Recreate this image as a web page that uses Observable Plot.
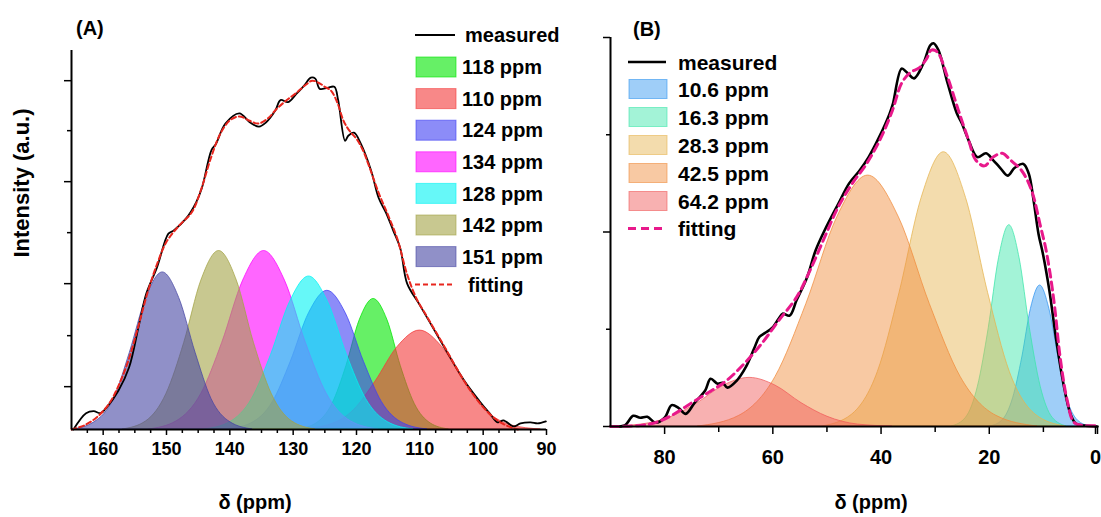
<!DOCTYPE html>
<html><head><meta charset="utf-8">
<script src="https://cdn.jsdelivr.net/npm/d3@7"></script>
<script src="https://cdn.jsdelivr.net/npm/@observablehq/plot@0.6"></script>
<style>
body{margin:0;background:#fff;}
#wrap{position:relative;width:1101px;height:517px;overflow:hidden;background:#fff;}
.pnl{position:absolute;top:0;}
#over{position:absolute;left:0;top:0;pointer-events:none;}
</style></head><body><div id="wrap"></div>
<script>
// ---------- Panel A data (ppm, intensity a.u.) ----------
const xDomainA = [165, 90];
const xTicksA = [160, 150, 140, 130, 120, 110, 100, 90];
const xMinorA = [162.5,157.5,155,152.5,147.5,145,142.5,137.5,135,132.5,127.5,125,122.5,117.5,115,112.5,107.5,105,102.5,97.5,95,92.5];
const yTicksA = [0.42, 1.43, 2.43, 3.42];
const yMinorA = [0.92, 1.93, 2.93];
const measuredA = [[164.7,0],[162.7,0.16],[161.5,0.18],[160.4,0.16],[159.4,0.22],[157.6,0.38],[155.9,0.61],[154.3,1.04],[153.2,1.33],[151.5,1.59],[149.7,1.92],[148.9,1.95],[146.9,2.07],[145.3,2.23],[144.4,2.37],[142.9,2.74],[142.2,2.80],[140.7,3.00],[138.5,3.10],[136.8,3.01],[135.4,2.97],[134.3,3.01],[132.8,3.13],[132.0,3.23],[130.8,3.21],[129.5,3.29],[128.3,3.37],[127.2,3.45],[126.5,3.44],[125.8,3.34],[124.6,3.35],[123.5,3.36],[122.9,3.23],[121.8,2.83],[121.3,2.88],[120.4,2.91],[119.3,2.80],[117.7,2.54],[116.5,2.27],[115.3,2.12],[114.2,1.95],[113.1,1.78],[112.0,1.43],[110.2,1.24],[108.6,1.07],[105.8,0.77],[103.0,0.48],[100.6,0.28],[99.0,0.16],[97.7,0.07],[96.8,0.09],[95.2,0.03],[94.1,0.06],[92.5,0.07],[91.4,0.06],[90.1,0.08]];
const fittingA = [[165,0],[163,0.04],[161,0.12],[159,0.26],[157.5,0.44],[156,0.68],[154.5,1.0],[153,1.34],[151.5,1.62],[150,1.84],[148,2.0],[146,2.13],[144.5,2.36],[143,2.66],[141.5,2.9],[140,3.03],[138.5,3.07],[137,3.03],[135.5,3.0],[134,3.05],[132.5,3.15],[131,3.23],[129.5,3.3],[128,3.38],[127,3.42],[126,3.4],[125,3.36],[124,3.32],[123,3.2],[122,3.02],[121,2.92],[120,2.85],[119,2.74],[118,2.58],[116.5,2.32],[115,2.1],[113.5,1.86],[112,1.52],[110.5,1.28],[109,1.12],[107.5,0.96],[106,0.8],[104,0.58],[102,0.38],[100,0.22],[98,0.1],[96,0.03],[94.5,0]];
const peakA118 = [[129.2,0],[126.3,0.06],[123.8,0.25],[121.6,0.62],[119.5,1.07],[117.3,1.28],[115.1,1.07],[113.0,0.62],[110.8,0.25],[108.3,0.06],[105.4,0]];
const peakA110 = [[129.1,0],[124.5,0.04],[120.4,0.19],[117.0,0.47],[113.5,0.81],[110.0,0.97],[106.5,0.81],[103.0,0.47],[99.6,0.19],[95.5,0.04],[90.9,0]];
const peakA124 = [[140.4,0],[136.6,0.06],[133.2,0.27],[130.4,0.66],[127.5,1.14],[124.6,1.36],[121.7,1.14],[118.8,0.66],[116.0,0.27],[112.6,0.06],[108.8,0]];
const peakA134 = [[152.8,0],[148.4,0.08],[144.5,0.35],[141.2,0.85],[137.9,1.46],[134.6,1.75],[131.3,1.46],[128.0,0.85],[124.7,0.35],[120.9,0.08],[116.5,0]];
const peakA128 = [[144.0,0],[140.0,0.07],[136.5,0.30],[133.5,0.73],[130.5,1.25],[127.5,1.50],[124.5,1.25],[121.5,0.73],[118.5,0.30],[115.0,0.07],[111.0,0]];
const peakA142 = [[156.9,0],[153.2,0.08],[150.0,0.35],[147.2,0.85],[144.5,1.46],[141.7,1.75],[138.9,1.46],[136.2,0.85],[133.4,0.35],[130.2,0.08],[126.5,0]];
const peakA151 = [[164.8,0],[161.4,0.07],[158.3,0.30],[155.8,0.75],[153.2,1.29],[150.6,1.54],[148.0,1.29],[145.4,0.75],[142.9,0.30],[139.9,0.07],[136.4,0]];
const peakLabelsA = ["118 ppm","110 ppm","124 ppm","134 ppm","128 ppm","142 ppm","151 ppm"];
const peakColorsA = ["#00e600","#f33939","#3f3ff3","#ff00ff","#00f3f3","#a3a346","#4646a3"];
const peakSeriesA = [peakA118, peakA110, peakA124, peakA134, peakA128, peakA142, peakA151];

// ---------- Panel B data ----------
const xDomainB = [90, 0];
const xTicksB = [80, 60, 40, 20, 0];
const xMinorB = [70, 50, 30, 10];
const yTicksB = [0, 2, 4];
const yMinorB = [1, 3];
const measuredB = [[90,0],[87.4,0.01],[85.8,0.11],[84.5,0.09],[83.2,0.10],[81.7,0.04],[80.0,0.09],[78.7,0.22],[77.4,0.19],[76.1,0.13],[74.5,0.24],[72.5,0.37],[71.5,0.49],[70.2,0.44],[69.3,0.45],[68.4,0.40],[66.7,0.47],[65.0,0.61],[63.4,0.81],[62.5,0.92],[61.5,0.96],[60.2,1.01],[58.9,1.11],[58.2,1.16],[56.9,1.14],[55.6,1.30],[53.7,1.53],[52.1,1.81],[50.4,2.02],[47.9,2.29],[45.9,2.50],[44.0,2.63],[42.3,2.77],[40.4,2.97],[38.4,3.22],[37.8,3.32],[36.2,3.68],[35.2,3.64],[33.9,3.58],[32.2,3.73],[30.9,3.92],[30.3,3.94],[29.4,3.87],[27.7,3.53],[26.0,3.22],[25.1,3.12],[23.8,2.94],[22.2,2.77],[20.6,2.81],[19.3,2.74],[18.0,2.66],[16.6,2.58],[15.3,2.66],[13.7,2.70],[12.7,2.60],[11.8,2.32],[10.9,1.98],[10.1,1.78],[8.9,1.40],[7.6,0.88],[6.3,0.44],[5.0,0.13],[4.0,0.03],[2.4,0.01],[0,0]];
const fittingB = [[90,0],[84.5,0.01],[81.7,0.04],[78.5,0.12],[75.1,0.24],[71.9,0.35],[68.6,0.47],[65.4,0.64],[62.1,0.85],[58.9,1.09],[55.6,1.33],[53.0,1.62],[50.4,1.95],[47.9,2.26],[45.3,2.50],[42.7,2.70],[40.1,2.96],[37.9,3.25],[36.2,3.53],[34.6,3.64],[32.9,3.69],[31.6,3.78],[30.7,3.87],[29.6,3.85],[27.7,3.59],[25.7,3.25],[23.8,2.94],[22.5,2.74],[20.9,2.68],[19.3,2.77],[17.6,2.81],[16.1,2.74],[14.0,2.63],[12.2,2.43],[10.5,2.05],[9.6,1.84],[8.7,1.55],[7.9,1.22],[6.9,0.71],[5.6,0.27],[4.3,0.04],[2.4,0.01],[0,0.01]];
const peakB106 = [[19.8,0],[17.6,0.06],[15.6,0.29],[13.9,0.71],[12.3,1.21],[10.6,1.45],[8.9,1.21],[7.2,0.71],[5.6,0.29],[3.6,0.06],[1.4,0]];
const peakB163 = [[26.9,0],[24.3,0.09],[22.1,0.41],[20.1,1.01],[18.2,1.73],[16.3,2.07],[14.4,1.73],[12.5,1.01],[10.5,0.41],[8.3,0.09],[5.7,0]];
const peakB283 = [[50.8,0],[45.4,0.12],[40.6,0.56],[36.6,1.37],[32.5,2.35],[28.4,2.82],[24.3,2.35],[20.2,1.37],[16.2,0.56],[11.4,0.12],[6.0,0]];
const peakB425 = [[73.8,0],[66.2,0.11],[59.5,0.51],[53.8,1.26],[48.1,2.15],[42.4,2.58],[36.7,2.15],[31.0,1.26],[25.3,0.51],[18.7,0.11],[11.1,0]];
const peakB642 = [[90.0,0],[84.3,0.02],[78.7,0.10],[73.9,0.24],[69.1,0.42],[64.3,0.50],[59.5,0.42],[54.7,0.24],[49.9,0.10],[44.3,0.02],[37.9,0]];
const peakLabelsB = ["10.6 ppm","16.3 ppm","28.3 ppm","42.5 ppm","64.2 ppm"];
const peakColorsB = ["#3296f0","#3ce6aa","#e6b450","#f08c3c","#f05a5a"];
const peakSeriesB = [peakB106, peakB163, peakB283, peakB425, peakB642];

const FONT = '"Liberation Sans", Arial, sans-serif';
const fillOpA = 0.6, fillOpB = 0.47;
const px = d => d[0], py = d => d[1];

function panel(o) {
  const last = o.xTicks[o.xTicks.length - 1];
  return Plot.plot({
    width: o.width, height: 517,
    marginLeft: o.ml, marginRight: o.mr, marginTop: o.mt, marginBottom: o.mb,
    x: {domain: o.xDomain, label: null},
    y: {domain: o.yDomain, label: null},
    style: {fontFamily: FONT, fontSize: o.fs + "px", fontWeight: "bold", color: "#000", background: "transparent", overflow: "visible"},
    marks: [
      ...o.peaks.map((s, i) => Plot.areaY(s, {x: px, y: py, curve: "monotone-x", fill: o.colors[i], fillOpacity: o.fillOp, stroke: o.colors[i], strokeOpacity: 0.75, strokeWidth: 1})),
      Plot.line(o.measured, {x: px, y: py, curve: "catmull-rom", stroke: "#000", strokeWidth: o.mw}),
      Plot.line(o.fitting, {x: px, y: py, curve: "catmull-rom", stroke: o.fitColor, strokeWidth: o.fw, strokeDasharray: o.dash}),
      Plot.axisY(o.yTicks, {tickSize: 7, tickFormat: () => "", strokeWidth: 1.5, label: null}),
      Plot.axisY(o.yMinor, {tickSize: 4, tickFormat: () => "", strokeWidth: 1.5, label: null}),
      Plot.axisX(o.xTicks, {tickSize: o.xts, tickPadding: o.xtp, strokeWidth: 1.5, label: null, fontSize: o.fs, fontWeight: "bold",
        tickFormat: d => (o.lastDx && d === last) ? "" : String(d)}),
      ...(o.lastDx ? [Plot.axisX([last], {tickSize: o.xts, tickPadding: o.xtp, strokeWidth: 1.5, label: null, fontSize: o.fs, fontWeight: "bold", dx: o.lastDx, tickFormat: d => String(d)})] : []),
      Plot.axisX(o.xMinor, {tickSize: o.xts - 2, tickFormat: () => "", strokeWidth: 1.5, label: null}),
      Plot.ruleX([o.xDomain[0]], {stroke: "#000", strokeWidth: 2}),
      Plot.ruleY([0], {stroke: "#000", strokeWidth: 2})
    ]
  });
}

const wrap = document.getElementById("wrap");
const svgA = panel({width: 560, ml: 71, mr: 14, mt: 50, mb: 88, xDomain: xDomainA, yDomain: [0, 3.716],
  peaks: peakSeriesA, colors: peakColorsA, fillOp: fillOpA, measured: measuredA, fitting: fittingA,
  mw: 1.8, fw: 2, fitColor: "#e8261e", dash: "5,3", yTicks: yTicksA, yMinor: yMinorA,
  xTicks: xTicksA, xMinor: xMinorA, xts: 6, xtp: 7, fs: 18});
const svgB = panel({width: 541, ml: 50, mr: 4, mt: 37, mb: 91, xDomain: xDomainB, yDomain: [0, 4],
  peaks: peakSeriesB, colors: peakColorsB, fillOp: fillOpB, measured: measuredB, fitting: fittingB,
  mw: 2.6, fw: 3, fitColor: "#e8198b", dash: "8,5", yTicks: yTicksB, yMinor: yMinorB,
  xTicks: xTicksB, xMinor: xMinorB, xts: 8, xtp: 15, fs: 20, lastDx: -2});
const dA = document.createElement("div"); dA.className = "pnl"; dA.style.left = "0px"; dA.appendChild(svgA); wrap.appendChild(dA);
const dB = document.createElement("div"); dB.className = "pnl"; dB.style.left = "560px"; dB.appendChild(svgB); wrap.appendChild(dB);

// ---------- overlay: titles, axis labels, legends ----------
const over = d3.select(wrap).append("svg").attr("id", "over").attr("width", 1101).attr("height", 517)
  .style("font-family", FONT).style("font-weight", "bold");
over.append("text").attr("x", 76).attr("y", 35).attr("font-size", 20).text("(A)");
over.append("text").attr("x", 633).attr("y", 36).attr("font-size", 20).text("(B)");
over.append("text").attr("x", 255).attr("y", 509).attr("font-size", 20).attr("text-anchor", "middle").text("δ (ppm)");
over.append("text").attr("x", 871).attr("y", 509).attr("font-size", 20).attr("text-anchor", "middle").text("δ (ppm)");
over.append("text").attr("transform", "translate(29,183) rotate(-90)").attr("font-size", 22).attr("text-anchor", "middle").text("Intensity (a.u.)");

function legend(g, o) {
  g.append("line").attr("x1", o.lx).attr("x2", o.lx + o.lw).attr("y1", o.y0).attr("y2", o.y0).attr("stroke", "#000").attr("stroke-width", o.mw);
  g.append("text").attr("x", o.tx).attr("y", o.y0 + o.fs * 0.36).attr("font-size", o.fs).text("measured");
  o.labels.forEach((lab, i) => {
    const cy = o.y1 + i * o.dy;
    g.append("rect").attr("x", o.lx + 1).attr("y", cy - o.sh / 2).attr("width", o.lw).attr("height", o.sh)
      .attr("fill", o.colors[i]).attr("fill-opacity", o.fillOp).attr("stroke", o.colors[i]).attr("stroke-opacity", 0.6).attr("stroke-width", 1);
    g.append("text").attr("x", o.tx2).attr("y", cy + o.fs * 0.36).attr("font-size", o.fs).text(lab);
  });
  const fy = o.y1 + (o.labels.length - 1) * o.dy + o.dyF;
  g.append("line").attr("x1", o.lx).attr("x2", o.lx + o.lw).attr("y1", fy).attr("y2", fy).attr("stroke", o.fitColor).attr("stroke-width", o.fw).attr("stroke-dasharray", o.dash);
  g.append("text").attr("x", o.tx3).attr("y", fy + o.fs * 0.36).attr("font-size", o.fs).text("fitting");
}
legend(over.append("g"), {lx: 415, lw: 40, y0: 35, y1: 67, dy: 31.6, dyF: 28, sh: 20, tx: 465, tx2: 462, tx3: 468, fs: 20,
  labels: peakLabelsA, colors: peakColorsA, fillOp: fillOpA, mw: 1.8, fw: 2, fitColor: "#e8261e", dash: "5,3"});
legend(over.append("g"), {lx: 628, lw: 38, y0: 62, y1: 89, dy: 28, dyF: 27.5, sh: 19, tx: 678, tx2: 678, tx3: 678, fs: 21,
  labels: peakLabelsB, colors: peakColorsB, fillOp: fillOpB, mw: 2.6, fw: 3, fitColor: "#e8198b", dash: "8,5"});
</script></body></html>
